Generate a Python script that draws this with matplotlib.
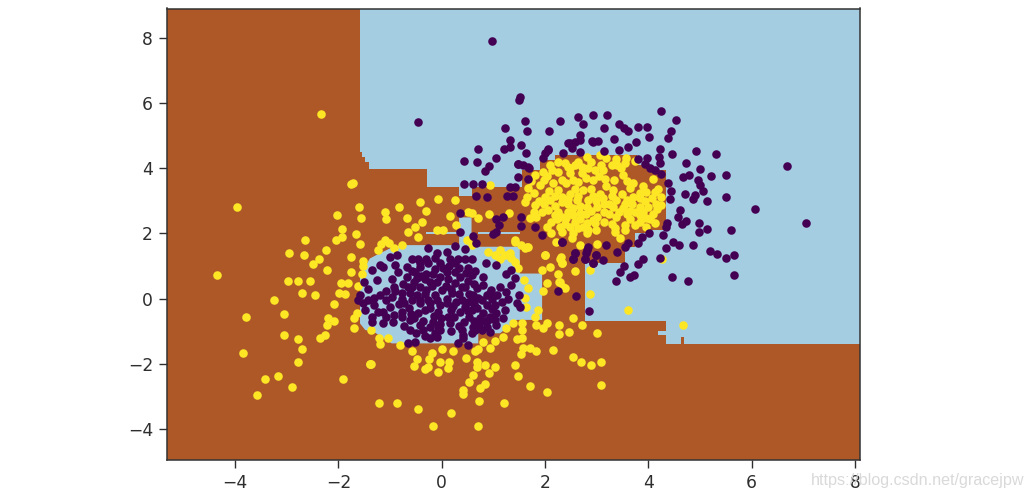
import matplotlib
matplotlib.use("Agg")
import matplotlib.pyplot as plt

# Classifier regions (x, y)
blue_upper = [(-1.60,8.95),(-1.60,4.44),(-1.56,4.44),(-1.56,4.29),(-1.50,4.29),(-1.50,4.13),(-1.43,4.13),(-1.43,3.92),
 (-0.31,3.92),(-0.31,3.37),(0.31,3.37),(0.31,3.09),(0.56,3.09),(0.56,3.37),(1.52,3.37),(1.52,3.89),(1.87,3.89),
 (1.87,4.20),(2.16,4.20),(2.16,4.35),(3.74,4.35),(3.74,4.04),(4.02,4.04),(4.02,3.89),(4.30,3.89),(4.30,2.05),
 (3.93,2.05),(3.93,1.96),(3.70,1.96),(3.70,1.53),(3.51,1.53),(3.51,1.04),(2.74,1.04),(2.74,-0.74),(4.30,-0.74),
 (4.30,-1.04),(4.14,-1.04),(4.14,-1.16),(4.30,-1.16),(4.30,-1.44),(4.59,-1.44),(4.59,-1.23),(4.64,-1.23),(4.64,-1.44),
 (8.2,-1.44),(8.2,8.95)]
blue_lower = [(-0.32,1.59),(-0.80,1.59),(-1.02,1.49),(-1.28,1.29),(-1.41,1.18),(-1.50,0.93),(-1.60,0.62),(-1.60,-0.81),
 (-1.50,-1.01),(-1.34,-1.06),(-0.99,-1.42),(0.68,-1.42),(0.68,-1.11),(1.10,-1.11),(1.42,-0.70),(1.91,-0.70),(1.91,0.72),
 (1.48,0.72),(1.48,1.54),(0.68,1.54),(0.55,1.59),(0.55,2.44),(0.31,2.44),(0.31,1.59)]
blue_strip_left = [(-0.32,1.93),(0.31,1.93),(0.31,1.98),(-0.32,1.98)]
blue_strip_right = [(0.68,1.93),(1.48,1.93),(1.48,1.98),(0.68,1.98)]

yellow_left = [(-1.74,3.50),(-1.77,3.45),(-3.98,2.75),(-2.05,2.51),(-1.62,2.77),(-1.58,2.41),(-1.11,2.61),(-1.09,2.39),
 (-0.84,2.77),(-0.70,2.41),(-1.94,2.08),(-1.94,1.85),(-2.07,1.75),(-1.68,1.92),(-1.60,1.62),(-2.66,1.75),(-2.26,1.44),
 (-2.97,1.34),(-2.68,1.30),(-2.40,1.17),(-2.51,1.00),(-1.77,1.24),(-1.54,1.11),(-2.23,0.83),(-1.77,0.78),(-1.56,0.70),
 (-4.35,0.67),(-2.99,0.50),(-2.79,0.49),(-2.56,0.50),(-1.97,0.44),(-1.84,0.42),(-2.71,0.11),(-2.47,0.07),(-2.00,0.11),
 (-1.88,0.09),(-3.25,-0.10),(-2.11,-0.22),(-3.06,-0.52),(-3.80,-0.60),(-2.21,-0.63),(-2.10,-0.72),(-2.24,-0.86),
 (-1.71,-0.65),(-1.72,-0.94),(-3.06,-1.17),(-2.79,-1.30),(-2.37,-1.27),(-2.27,-1.16),(-2.71,-1.58),(-3.85,-1.71),
 (-2.80,-1.98),(-3.19,-2.41),(-3.44,-2.52),(-2.92,-2.76),(-3.58,-2.99),(-1.92,-2.50),(-1.40,-2.06),(-1.39,-1.01),
 (-1.23,-1.27),(-1.22,-1.44),(-1.07,-1.24),(-0.83,-1.47),(-1.63,0.34),(-2.35,5.60),(-1.66,-0.50),(-1.41,-2.06)]
yellow_top = [(-0.44,2.90),(-0.33,2.63),(-0.09,2.99),(0.23,2.97),(0.13,2.49),(-0.41,2.31),(-0.54,2.15),(-0.67,2.00),
 (-0.48,1.85),(-0.12,2.05),(0.00,2.05),(0.26,2.21),(-1.12,1.74),(-1.25,1.44),(-0.80,1.59),(-1.05,1.64),(0.90,3.43),
 (0.55,2.56),(0.68,2.41),(0.89,2.54),(1.28,2.56),(0.49,2.61),(0.46,1.74),(0.55,1.59),(0.87,1.39),(1.10,1.44),(1.29,1.34),
 (1.39,1.70),(1.61,1.54),(1.10,1.18),(1.39,1.08),(1.45,0.88),(1.96,1.29),(2.25,1.18),(2.30,1.03),(2.06,0.93),(1.90,0.83),
 (2.54,0.80),(2.22,0.72),(2.25,0.47),(2.01,0.44),(2.35,0.27),(1.93,0.18),(1.56,0.52),(1.64,0.27),(1.58,-0.04),(1.60,-0.30),
 (1.84,-0.40),(1.77,-0.60),(2.84,0.08),(3.56,-0.40),(2.32,0.32),(2.24,0.47),(1.00,1.30),(1.20,1.28),(1.32,1.20),(1.50,1.60),
 (-1.20,1.62),(-0.95,1.50),(-1.55,0.95)]
yellow_bottom = [(-1.39,-2.05),(-1.23,-3.26),(-0.88,-3.26),(-0.48,-3.44),(0.15,-3.56),(-0.20,-3.95),(0.68,-3.94),(0.70,-3.17),
 (1.17,-3.26),(0.39,-2.85),(0.39,-2.97),(0.72,-2.78),(0.81,-2.66),(0.51,-2.59),(0.58,-2.39),(0.88,-2.32),(1.00,-2.13),
 (1.39,-2.08),(1.45,-2.43),(1.67,-2.74),(2.01,-2.92),(3.04,-2.68),(3.04,-1.98),(2.86,-2.08),(2.66,-1.98),(2.51,-1.85),
 (2.12,-1.62),(1.80,-1.64),(1.67,-1.57),(1.55,-1.57),(1.50,-1.74),(1.42,-1.28),(1.53,-1.26),(0.81,-2.08),(0.65,-1.98),
 (0.65,-2.13),(0.45,-1.86),(0.12,-1.98),(0.10,-2.18),(-0.05,-1.98),(-0.09,-2.29),(-0.28,-2.13),(-0.35,-2.21),(-0.55,-2.10),
 (-0.50,-1.91),(-0.27,-1.91),(-0.22,-1.72),(-0.60,-1.65),(-0.01,-1.59),(0.20,-1.65),(0.61,-1.65),(0.68,-1.59),(0.90,-1.57),
 (0.78,-1.37),(1.00,-1.35),(1.16,-1.21),(1.22,-0.96),(1.35,-0.78),(1.53,-0.80),(1.53,-1.01),(1.80,-0.86),(1.92,-0.94),
 (2.00,-0.78),(2.24,-0.86),(2.24,-1.14),(2.43,-1.08),(2.51,-0.65),(2.67,-0.86),(2.97,-1.11),(4.63,-0.86)]
yellow_cluster = [(2.22,4.14),(2.06,4.04),(2.77,4.30),(3.02,4.35),(3.15,4.25),(3.34,4.22),(3.52,4.25),(3.70,4.18),(2.54,4.04),
 (2.41,3.97),(2.67,3.97),(2.93,3.89),(3.09,3.89),(3.25,4.04),(3.44,3.94),(1.93,3.84),(1.77,3.74),(2.22,3.84),(2.45,3.79),
 (2.67,3.79),(3.12,3.63),(3.47,3.74),(4.05,3.61),(1.87,3.43),(1.64,3.33),(2.13,3.48),(2.38,3.48),(2.61,3.53),(2.89,3.58),
 (3.67,3.50),(1.61,3.07),(1.58,2.92),(1.96,3.05),(2.22,3.28),(2.45,3.17),(2.70,3.28),(3.02,3.17),(3.28,3.28),(3.60,3.33),
 (3.67,3.07),(3.92,3.23),(4.08,3.23),(4.21,3.07),(1.77,2.82),(2.06,2.97),(2.29,2.92),(2.59,2.97),(2.80,2.97),(3.09,3.02),
 (3.34,2.97),(3.54,2.97),(3.79,3.02),(4.02,3.02),(4.21,2.82),(1.68,2.41),(1.80,2.46),(2.03,2.66),(2.22,2.61),(2.51,2.72),
 (2.77,2.77),(2.96,2.77),(3.28,2.77),(3.47,2.72),(3.79,2.77),(3.95,2.77),(2.09,2.31),(2.38,2.41),(2.64,2.56),(2.96,2.46),
 (3.34,2.46),(3.79,2.51),(3.92,2.41),(4.08,2.26),(2.45,2.15),(2.77,2.26),(2.93,2.26),(3.31,2.10),(3.51,2.21),(3.70,2.21),
 (3.92,2.15),(2.09,1.95),(2.29,2.00),(2.48,1.80),(2.77,1.95),(3.41,1.80),(2.18,1.69),(2.64,1.59),(2.96,1.62),(3.31,2.00),
 (1.64,1.54),(1.58,1.49),(1.39,1.75),(1.96,1.29),(2.27,1.24),(2.30,1.05),(2.84,0.83),(4.22,1.18),
 (2.10,3.90),(2.35,4.10),(2.60,4.15),(2.85,4.15),(3.35,4.05),(1.95,3.60),(2.30,3.60),(2.50,3.60),(2.75,3.65),(3.00,3.70),
 (3.30,3.60),(3.55,3.55),(3.85,3.40),(1.75,3.20),(2.05,3.25),(2.30,3.05),(2.55,3.30),(2.85,3.30),(3.15,3.40),(3.45,3.15),
 (3.80,3.20),(4.15,3.30),(1.85,2.95),(2.15,2.80),(2.40,2.85),(2.65,2.80),(2.95,2.95),(3.20,2.85),(3.50,2.85),(3.65,2.85),
 (3.90,2.95),(4.10,2.85),(1.90,2.60),(2.30,2.45),(2.50,2.50),(2.75,2.55),(3.10,2.60),(3.55,2.55),(3.70,2.60),(4.05,2.55),
 (2.00,2.15),(2.60,2.10),(2.80,2.05),(2.55,2.30),(3.10,2.30),(3.60,2.40),(3.80,2.30),(2.95,2.05),(2.35,2.25),(2.15,2.50),
 (1.70,3.55),(2.00,3.70),(2.45,3.95),(2.80,3.95),(3.05,4.05),(3.50,4.10),(2.15,3.10),(2.60,3.10),(2.40,3.00),(2.90,3.10),
 (3.25,3.10),(3.10,2.85),(3.40,2.60),(3.20,2.55),(2.85,2.65),(2.65,2.40),(2.40,2.60),(1.75,2.60),(1.95,2.85),(2.20,2.40),
 (2.90,2.35),(3.60,2.65),(3.85,2.60),(4.00,2.40),(2.70,2.15),(2.50,1.95),(2.25,2.15),(3.50,2.05),(3.25,2.25),(4.12,2.70)]

purple_blob = [(-0.28,1.49),(0.23,1.56),(0.42,1.46),(-0.12,1.34),(0.07,1.39),(-0.89,1.29),(-1.02,1.24),(-0.48,1.18),(-0.60,1.18),
 (-0.32,1.18),(0.13,1.18),(0.42,1.18),(0.55,1.18),(-1.21,0.98),(-1.37,0.83),(-1.15,0.93),(-0.93,0.98),(-0.70,0.93),(-0.44,0.93),
 (-0.28,1.03),(-0.06,1.03),(0.23,1.03),(0.49,0.88),(0.82,1.05),(1.02,0.98),(1.32,0.83),(1.22,0.71),(-0.86,0.78),(-0.54,0.78),
 (-0.32,0.72),(0.07,0.78),(0.23,0.78),(0.55,0.67),(0.78,0.62),(1.39,0.57),(-1.28,0.52),(-0.99,0.54),(-1.52,0.47),(-1.44,0.24),
 (-0.70,0.62),(-0.51,0.57),(-0.12,0.47),(0.23,0.42),(0.42,0.32),(0.78,0.37),(1.32,0.37),(-0.67,0.32),(-0.44,0.32),(-0.32,0.21),
 (-0.02,0.21),(0.36,0.32),(0.65,0.27),(1.22,0.16),(0.90,0.11),(-1.21,0.06),(-1.60,0.06),(-1.63,-0.09),(-1.34,-0.04),(-0.80,0.11),
 (-0.64,0.11),(0.17,0.11),(0.58,0.06),(0.84,0.06),(1.47,0.06),(-0.99,0.01),(-0.28,-0.09),(-0.12,-0.09),(0.36,-0.09),(0.49,-0.14),
 (0.68,-0.04),(1.13,-0.14),(1.42,-0.19),(-1.54,-0.19),(-1.34,-0.25),(-1.02,-0.30),(-0.76,-0.19),(-0.44,-0.19),(-0.25,-0.19),
 (0.07,-0.19),(0.42,-0.30),(0.84,-0.25),(1.00,-0.25),(1.48,-0.30),(-1.15,-0.45),(-0.80,-0.45),(-0.48,-0.50),(-0.25,-0.35),
 (0.33,-0.45),(0.55,-0.40),(0.78,-0.50),(1.03,-0.50),(-1.37,-0.60),(-0.96,-0.76),(-1.09,-0.60),(-0.80,-0.60),(-0.03,-0.65),
 (0.71,-0.65),(0.87,-0.70),(1.16,-0.65),(-1.37,-0.76),(-0.64,-0.70),(0.13,-0.79),(-0.25,-0.91),(-0.09,-0.91),(0.58,-0.91),
 (0.84,-0.91),(1.03,-0.86),(-0.64,-1.01),(-0.38,-1.01),(-0.06,-1.01),(0.36,-1.01),(0.62,-1.01),(0.90,-1.06),(0.39,-1.16),
 (-0.25,-1.27),(-0.12,-1.22),(-0.67,-1.40),(-0.54,-1.37),(0.29,-1.42),(0.49,-1.47),(0.39,-1.27),
 (-0.60,0.80),(-0.35,0.55),(-0.20,0.70),(-0.05,0.60),(0.10,0.55),(0.32,0.60),(0.12,0.95),(0.28,1.15),(-0.15,1.20),(0.00,0.90),
 (0.45,0.75),(0.60,0.40),(0.50,0.10),(0.30,0.10),(0.05,0.35),(-0.22,0.35),(-0.55,0.45),(-0.78,0.40),(-0.95,0.30),(-1.10,0.20),
 (-0.50,0.05),(-0.35,0.10),(-0.15,0.05),(0.08,-0.05),(0.25,-0.15),(0.60,-0.20),(0.75,-0.10),(0.95,-0.05),(1.10,0.30),(1.25,-0.05),
 (-0.60,-0.10),(-0.85,-0.20),(-0.65,-0.35),(-0.35,-0.40),(-0.10,-0.45),(0.15,-0.40),(0.50,-0.60),(0.65,-0.35),(0.90,-0.60),
 (1.20,-0.40),(-1.25,-0.45),(-0.95,-0.55),(-0.55,-0.65),(-0.45,-0.85),(-0.20,-0.75),(0.10,-0.60),(0.40,-0.75),(0.70,-0.85),
 (1.00,-0.70),(-0.75,-0.90),(-0.15,-1.10),(-0.35,-1.20),(0.55,-1.10),(0.75,-1.00),(-1.15,-0.80),(-1.45,-0.10),(-1.50,-0.40),
 (-0.45,1.05),(-0.15,0.85),(0.30,0.90),(0.62,0.80),(-0.42,0.65),(-0.60,0.30),(-0.25,0.45),(0.15,0.25),(0.48,0.50),(-0.05,-0.25),
 (0.20,-0.28),(0.55,-0.05),(0.92,0.22),(1.05,0.05),(-0.45,-0.08),(-0.18,-0.58),(0.22,-0.62),(0.48,-0.42),(0.60,-0.72),(0.95,-0.38),
 (-0.62,-0.52),(-0.38,-0.72),(-0.80,-0.05),(-1.10,-0.10),(-0.92,0.18),(0.30,-0.88),(0.15,-1.05),(-0.52,-1.10),(-0.05,-0.82),(0.80,-0.72)]
purple_halo = [(0.94,7.84),(-0.48,5.36),(6.99,2.27),(6.63,4.01),(0.68,4.52),(0.40,4.17),(0.66,4.13),(0.89,4.02),(0.80,3.87),
 (1.03,4.25),(1.18,4.52),(1.30,4.81),(1.51,4.66),(1.60,4.42),(1.92,4.25),(2.03,4.50),(2.44,4.71),(2.64,4.96),(2.89,4.76),(1.45,4.09),
 (1.64,3.97),(1.45,3.69),(1.64,3.61),(0.40,3.45),(0.57,3.45),(0.76,3.45),(1.29,3.38),(1.39,3.38),(0.63,3.10),(0.85,3.06),(1.24,3.10),
 (1.35,3.10),(0.33,2.56),(1.16,2.44),(1.51,2.44),(1.03,2.38),(1.07,2.21),(1.50,2.17),(1.78,2.13),(1.90,1.90),(2.30,1.70),(0.33,2.00),
 (0.58,1.88),(0.63,1.64),(0.96,1.93),(1.03,2.00),(2.54,1.36),(2.77,1.44),(2.51,1.18),(2.73,1.18),(2.94,1.29),(2.89,1.03),(2.22,0.18),
 (2.57,0.04),(2.82,-0.42),(1.47,6.05),(1.48,6.12),(1.19,5.19),(1.58,5.40),(1.62,5.09),(2.25,5.40),(2.04,5.08),(2.60,5.52),(2.70,5.30),
 (2.90,5.59),(3.17,5.58),(3.10,5.17),(3.39,5.29),(3.49,5.17),(3.56,5.09),(3.76,5.22),(3.94,5.21),(3.97,4.89),(4.21,5.69),(4.50,5.42),
 (4.40,5.09),(4.33,4.86),(2.88,4.79),(2.98,4.79),(3.30,4.85),(3.72,4.74),(1.29,4.60),(2.03,4.52),(1.96,4.40),(2.32,4.40),(2.41,4.71),
 (2.54,4.76),(2.64,4.81),(2.48,4.55),(2.64,4.45),(3.11,4.48),(3.40,4.50),(3.56,4.60),(4.19,4.52),(4.42,4.37),(4.87,4.48),(5.27,4.37),
 (3.94,4.25),(4.16,4.30),(4.18,4.12),(3.76,4.22),(3.89,4.07),(3.99,3.94),(4.08,3.89),(4.21,3.77),(4.68,4.11),(4.96,3.91),(5.17,3.71),
 (5.45,3.73),(4.63,3.67),(4.74,3.74),(4.92,3.60),(4.95,3.43),(5.01,3.26),(4.34,3.48),(4.40,3.25),(4.66,3.16),(4.85,3.12),(4.81,2.99),
 (5.09,2.93),(5.45,3.07),(4.37,3.00),(6.02,2.70),(4.56,2.66),(4.53,2.46),(4.69,2.34),(4.60,2.23),(4.31,2.28),(4.29,2.13),(4.93,2.26),
 (4.93,2.00),(5.08,2.07),(5.56,2.04),(3.97,1.95),(3.83,1.85),(3.76,1.64),(3.57,1.64),(3.51,1.54),(4.24,1.90),(4.44,1.70),(4.55,1.59),
 (4.29,1.49),(4.82,1.59),(5.14,1.40),(5.28,1.31),(5.46,1.19),(5.61,1.30),(4.18,1.19),(3.86,1.16),(3.75,1.01),(3.49,0.95),(3.41,0.78),
 (3.68,0.69),(3.60,0.60),(3.33,0.50),(4.42,0.62),(4.73,0.48),(5.61,0.68),(3.15,1.58),(3.36,1.39),(2.80,1.52),(2.75,1.34),(2.54,1.34),
 (2.50,1.18),(2.95,1.29),(2.73,1.16),(2.90,1.03),(3.08,1.13),(2.29,1.68),(1.66,3.94),(1.45,4.07),(1.55,4.05)]

x_ticks = [-4, -2, 0, 2, 4, 6, 8]
y_ticks = [-4, -2, 0, 2, 4, 6, 8]
watermark = "https://blog.csdn.net/gracejpw"
# small correction of the first reading of the axis scale, applied to all read values
read_scale_x, read_offset_x = 1.0045, 0.025
read_scale_y, read_offset_y = 1.0015, 0.049

BROWN, BLUE = "#ae5828", "#a4cde2"
PURPLE, YELLOW = "#440154", "#fde725"

def corrected(points):
    xs, ys = zip(*points)
    return ([v * read_scale_x + read_offset_x for v in xs],
            [v * read_scale_y + read_offset_y for v in ys])

fig = plt.figure(figsize=(10.34, 4.98), dpi=100)
ax = fig.add_axes([167/1034, 1-460/498, (860-167)/1034, (460-8.5)/498])
ax.set_facecolor(BROWN)
for poly in (blue_upper, blue_lower, blue_strip_left, blue_strip_right):
    ax.fill(*corrected(poly), color=BLUE, lw=0)

yellow = yellow_left + yellow_top + yellow_bottom + yellow_cluster
purple = purple_blob + purple_halo
ax.scatter(*corrected(yellow), s=38, c=YELLOW, linewidths=0, zorder=3)
ax.scatter(*corrected(purple), s=38, c=PURPLE, linewidths=0, zorder=4)

ax.set_xlim(-5.32, 8.10)
ax.set_ylim(-4.95, 8.90)
ax.set_xticks(x_ticks)
ax.set_yticks(y_ticks)
ax.tick_params(labelsize=12.3, length=5.5, width=1, pad=4.5, colors="#2e2e2e")
for s in ax.spines.values():
    s.set_linewidth(1.1)
    s.set_color("#333333")
fig.text(1024/1034, 1-480/498, watermark, ha="right", va="center", fontsize=11.6, color="#d9d9d9",
         fontfamily="Liberation Sans", zorder=5)
fig.savefig("out.png", dpi=100)
